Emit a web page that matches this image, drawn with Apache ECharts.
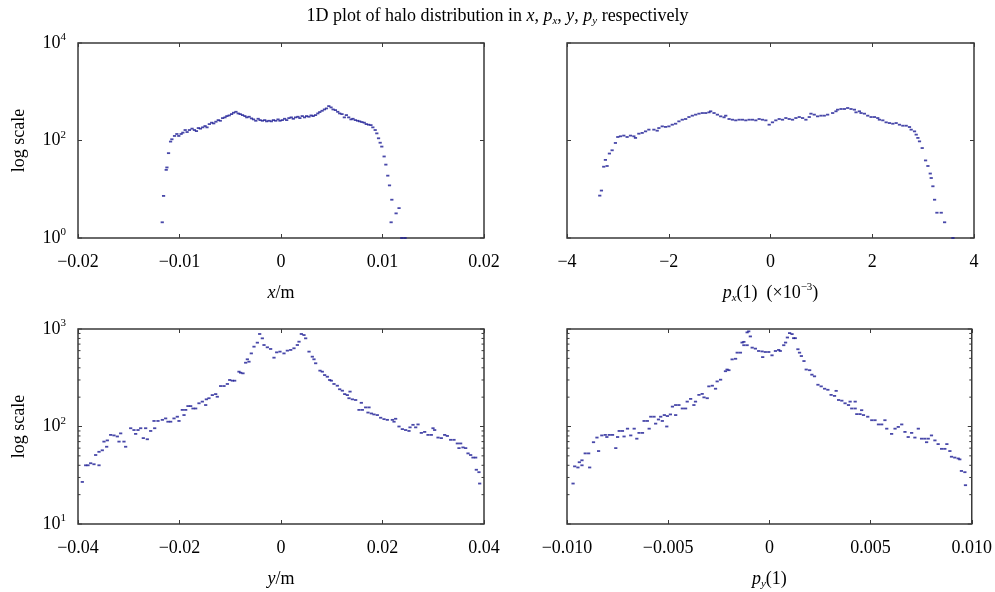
<!DOCTYPE html>
<html>
<head>
<meta charset="utf-8">
<script src="https://cdn.jsdelivr.net/npm/echarts@6/dist/echarts.min.js"></script>
<style>html,body{margin:0;padding:0;background:#fff}#c{width:995px;height:592px}</style>
</head>
<body>
<div id="c"></div>
<script>
// ---------- data: halo histograms (bin position, count) ----------
const xHaloPos = [-0.0117,-0.01157,-0.01131,-0.01124,-0.01108,-0.01088,-0.01075,-0.01049,-0.01026,-0.01007,-0.00984,-0.00967,-0.00944,-0.00925,-0.00902,-0.00876,-0.00853,-0.00833,-0.00814,-0.00794,-0.00771,-0.00748,-0.00729,-0.00706,-0.00683,-0.00663,-0.00641,-0.00618,-0.00598,-0.00575,-0.00552,-0.00533,-0.0051,-0.00487,-0.00467,-0.00444,-0.00422,-0.00402,-0.00379,-0.00356,-0.00337,-0.00314,-0.00291,-0.00271,-0.00248,-0.00225,-0.00206,-0.00183,-0.0016,-0.00141,-0.00118,-0.00095,-0.00075,-0.00052,-0.00029,-0.0001,0.00013,0.00036,0.00056,0.00078,0.00101,0.00121,0.00144,0.00167,0.00186,0.00209,0.00232,0.00252,0.00275,0.00297,0.00317,0.0034,0.00363,0.00382,0.00405,0.00428,0.00448,0.00471,0.00493,0.00513,0.00536,0.00559,0.00578,0.00601,0.00624,0.00644,0.00667,0.0069,0.00709,0.00732,0.00755,0.00775,0.00797,0.0082,0.0084,0.00863,0.00886,0.00905,0.00928,0.00944,0.00961,0.00977,0.00993,0.01016,0.01033,0.01052,0.01069,0.01085,0.01092,0.01134,0.01163,0.0119,0.01222];
const xHaloCount = [2.1,7.3,25,28,55,95,106,124,136,124,136,145,164,149,164,175,164,156,180,175,186,198,186,217,232,224,243,262,254,288,298,317,327,348,371,388,359,348,332,317,298,307,284,271,254,279,262,254,262,247,254,247,262,254,271,254,262,279,262,288,298,279,298,307,288,317,298,317,307,327,317,332,359,383,407,434,455,508,477,434,420,388,359,348,298,332,298,271,279,262,254,247,239,232,217,211,207,186,164,140,111,90,75,47,32,19,12,2.1,6.1,3.2,4.1,1,1];

const pxHaloPos = [-3.356,-3.323,-3.278,-3.245,-3.212,-3.166,-3.113,-3.048,-3.002,-2.949,-2.883,-2.818,-2.752,-2.686,-2.654,-2.588,-2.522,-2.456,-2.391,-2.292,-2.227,-2.194,-2.128,-2.062,-1.997,-1.931,-1.865,-1.8,-1.734,-1.668,-1.603,-1.537,-1.471,-1.406,-1.34,-1.274,-1.209,-1.176,-1.11,-1.044,-0.979,-0.913,-0.88,-0.814,-0.749,-0.683,-0.617,-0.552,-0.486,-0.42,-0.355,-0.289,-0.223,-0.158,-0.092,-0.026,0.039,0.105,0.171,0.236,0.302,0.368,0.433,0.499,0.565,0.631,0.696,0.762,0.795,0.86,0.926,0.992,1.057,1.123,1.222,1.287,1.32,1.386,1.452,1.517,1.583,1.649,1.681,1.747,1.78,1.846,1.911,1.977,2.043,2.108,2.141,2.207,2.273,2.338,2.404,2.47,2.535,2.601,2.667,2.732,2.765,2.831,2.864,2.897,2.929,2.982,3.048,3.094,3.14,3.159,3.192,3.225,3.271,3.356,3.422,3.586];
const pxHaloCount = [7.4,9.4,29,40,30,54,63,89,118,122,126,118,126,122,113,138,143,154,167,167,159,180,195,190,195,211,221,247,267,276,303,323,339,355,366,366,378,397,366,339,313,299,323,276,267,259,267,267,259,267,267,259,276,267,259,211,236,259,276,267,289,276,267,289,303,289,267,303,355,339,313,323,323,339,366,397,429,443,443,464,443,429,378,397,366,355,323,303,303,289,267,259,236,228,221,228,211,201,201,189,167,154,132,113,96,70,39,30,21,17,11.5,6.1,3.3,3.3,2.1,1];

const yHaloPos = [-0.03915,-0.03849,-0.03803,-0.0375,-0.03685,-0.03652,-0.03586,-0.03586,-0.03521,-0.03488,-0.03422,-0.03435,-0.03356,-0.03291,-0.03225,-0.03159,-0.03192,-0.03094,-0.03061,-0.02962,-0.02897,-0.02864,-0.02818,-0.02765,-0.02713,-0.02634,-0.02667,-0.02568,-0.02489,-0.02502,-0.02424,-0.02338,-0.02273,-0.02227,-0.02174,-0.02108,-0.02043,-0.0201,-0.01944,-0.01911,-0.01878,-0.01833,-0.0178,-0.01734,-0.01681,-0.01616,-0.0155,-0.01484,-0.01471,-0.01419,-0.01353,-0.01287,-0.01255,-0.01189,-0.01123,-0.01057,-0.01011,-0.00959,-0.00913,-0.00828,-0.00795,-0.00749,-0.00696,-0.00631,-0.00663,-0.00585,-0.00532,-0.00466,-0.0042,-0.00368,-0.00335,-0.00269,-0.00204,-0.00138,-0.00085,-0.0002,0.00059,0.00125,0.00191,0.00256,0.00322,0.00355,0.00401,0.00453,0.00486,0.00552,0.00617,0.0065,0.00683,0.00768,0.00814,0.0086,0.00913,0.00959,0.00992,0.01044,0.0111,0.01156,0.01209,0.01255,0.01307,0.0136,0.0134,0.01406,0.01471,0.01537,0.01603,0.01583,0.01668,0.01734,0.01714,0.0178,0.01833,0.01898,0.01964,0.0203,0.02095,0.02194,0.02259,0.02227,0.02325,0.02391,0.02456,0.02522,0.02542,0.02601,0.02654,0.027,0.02765,0.02831,0.02897,0.02962,0.02995,0.03028,0.03094,0.03159,0.03225,0.03278,0.03343,0.03409,0.03475,0.0354,0.03507,0.03586,0.03639,0.03685,0.03737,0.03783,0.03836,0.03849,0.03901,0.03915];
const yHaloCount = [27,40,40,42,41,51,40,55,57,70,72,62,82,81,79,85,70,70,62,96,92,84,92,96,76,74,96,90,96,114,114,117,121,112,112,121,126,114,148,131,148,162,162,153,153,173,180,166,190,195,210,215,202,260,260,273,300,295,295,365,356,351,451,462,489,562,659,724,889,802,685,649,624,508,576,586,562,600,610,634,685,741,889,867,802,586,520,489,445,374,365,337,324,300,295,273,262,241,233,215,210,228,195,190,187,148,148,175,157,157,139,136,133,131,123,119,117,117,120,112,100,94,92,90,98,104,98,105,86,88,82,82,96,92,77,76,82,80,73,73,67,67,60,61,60,53,51,48,48,36,34,26];

const pyHaloPos = [-0.0097,-0.00962,-0.00946,-0.00939,-0.00926,-0.00926,-0.0091,-0.00893,-0.00888,-0.00869,-0.00852,-0.00844,-0.00828,-0.00811,-0.00803,-0.00791,-0.00775,-0.00759,-0.0075,-0.00742,-0.00726,-0.00718,-0.00701,-0.00685,-0.00668,-0.00655,-0.00644,-0.00627,-0.00619,-0.00603,-0.00594,-0.00586,-0.0057,-0.00562,-0.00548,-0.00537,-0.00529,-0.00519,-0.00504,-0.00507,-0.00489,-0.00479,-0.00463,-0.00463,-0.00447,-0.0043,-0.00414,-0.00406,-0.00389,-0.00373,-0.00365,-0.00348,-0.00332,-0.00323,-0.00307,-0.00299,-0.00282,-0.00266,-0.00258,-0.00241,-0.00217,-0.00209,-0.002,-0.00184,-0.00167,-0.00159,-0.00143,-0.00135,-0.00126,-0.00126,-0.0011,-0.0011,-0.00102,-0.00094,-0.00085,-0.00069,-0.00053,-0.00036,-0.00033,-0.0002,-0.00003,0.00013,0.0003,0.00046,0.00054,0.00071,0.0008,0.00089,0.001,0.00112,0.0012,0.00128,0.00141,0.00149,0.00158,0.00171,0.00182,0.00199,0.0021,0.00223,0.0024,0.00256,0.00273,0.00289,0.00305,0.00322,0.0033,0.00342,0.00358,0.00374,0.00391,0.00399,0.00407,0.00424,0.00424,0.00432,0.00448,0.00456,0.00465,0.00486,0.00506,0.00522,0.00539,0.00555,0.00571,0.0058,0.00604,0.00621,0.00637,0.00654,0.0067,0.00686,0.00703,0.00719,0.00736,0.00752,0.00768,0.00777,0.00785,0.00801,0.00818,0.00834,0.00851,0.00867,0.00877,0.00892,0.009,0.00916,0.00933,0.00941,0.00949,0.00966,0.00969];
const pyHaloCount = [26,39,38,43,45,40,53,53,38,69,77,56,81,82,78,82,82,60,78,90,90,79,95,81,95,75,86,86,114,114,95,126,126,107,118,126,114,131,128,100,133,160,166,131,166,153,153,180,192,166,180,211,216,199,195,258,262,244,290,302,369,384,378,488,495,572,572,726,738,682,682,923,946,839,644,629,595,589,515,581,581,537,595,610,595,682,726,818,908,887,805,805,620,572,528,469,384,378,340,327,268,258,244,238,211,206,232,187,184,173,166,180,153,153,180,134,134,147,131,126,116,116,105,105,116,95,84,95,99,105,88,78,86,77,95,75,75,69,75,81,72,66,59,59,66,56,49,48,47,46,35,34,25];

// ---------- axis ticks and labels ----------
const xTickVals = [-0.02,-0.01,0,0.01,0.02];
const xTickLabels = ['\u22120.02','\u22120.01','0','0.01','0.02'];
const pxTickVals = [-4,-2,0,2,4];
const pxTickLabels = ['\u22124','\u22122','0','2','4'];
const yTickVals = [-0.04,-0.02,0,0.02,0.04];
const yTickLabels = ['\u22120.04','\u22120.02','0','0.02','0.04'];
const pyTickVals = [-0.01,-0.005,0,0.005,0.01];
const pyTickLabels = ['\u22120.010','\u22120.005','0','0.005','0.010'];
const topMajor = [1, 100, 10000];
const bottomMajor = [10, 100, 1000];
const bottomMinor = [20,30,40,50,60,70,80,90,200,300,400,500,600,700,800,900];

const FONT = '"Liberation Serif", "Times New Roman", serif';
const TXT = '#000';
const INK = '#3a3a3a';
const DOT = '#1a1a94';

const richStyles = {
  i: {fontStyle: 'italic', fontFamily: FONT, fontSize: 18, color: TXT, lineHeight: 22},
  n: {fontFamily: FONT, fontSize: 18, color: TXT, lineHeight: 22},
  sub: {fontStyle: 'italic', fontFamily: FONT, fontSize: 11, color: TXT, lineHeight: 12, verticalAlign: 'bottom'},
  sup: {fontFamily: FONT, fontSize: 11, color: TXT, lineHeight: 12, verticalAlign: 'top'}
};

const grids = [
  {left: 78, top: 43, width: 406, height: 195},
  {left: 567, top: 43, width: 407, height: 195},
  {left: 78, top: 329, width: 406, height: 195},
  {left: 567, top: 329, width: 407, height: 195}
].map(g => Object.assign({show: true, borderColor: INK, borderWidth: 1.5, containLabel: false}, g));

function labelFmt(vals, labels) {
  return function (v) {
    for (let i = 0; i < vals.length; i++) if (Math.abs(vals[i] - v) < 1e-9) return labels[i];
    return '';
  };
}

function xPair(gi, vals, labels, name) {
  const min = vals[0], max = vals[vals.length - 1], interval = vals[1] - vals[0];
  const base = {gridIndex: gi, type: 'value', min: min, max: max, interval: interval,
    splitLine: {show: false}, axisLine: {show: false}};
  return [
    Object.assign({}, base, {position: 'bottom',
      axisTick: {show: true, inside: true, length: 4, lineStyle: {color: INK}},
      axisLabel: {formatter: labelFmt(vals, labels), fontFamily: FONT, fontSize: 18, color: TXT, margin: 15},
      name: name, nameLocation: 'middle', nameGap: 44,
      nameTextStyle: {fontFamily: FONT, fontSize: 18, color: TXT, rich: richStyles}}),
    Object.assign({}, base, {position: 'top',
      axisTick: {show: true, inside: true, length: 4, lineStyle: {color: INK}},
      axisLabel: {show: false}})
  ];
}

function yAxisFor(gi, major, showLabels) {
  return {gridIndex: gi, type: 'log', logBase: 10, min: major[0], max: major[major.length - 1],
    splitLine: {show: false}, axisLine: {show: false}, axisTick: {show: false},
    axisLabel: {show: showLabels, margin: 12,
      formatter: function (v) {
        const e = Math.round(Math.log10(v));
        if (major.indexOf(Math.pow(10, e)) < 0) return '';
        return '{b|10}{sup|' + e + '}';
      },
      rich: {b: {fontFamily: FONT, fontSize: 18, color: TXT, lineHeight: 22},
             sup: {fontFamily: FONT, fontSize: 11, color: TXT, lineHeight: 12, verticalAlign: 'top'}}},
    name: showLabels ? 'log scale' : '', nameLocation: 'middle', nameRotate: 90, nameGap: 50,
    nameTextStyle: {fontFamily: FONT, fontSize: 18, color: TXT}
  };
}

function tickRenderer(params, api) {
  const cs = params.coordSys;
  const y = api.coord([api.value(0), api.value(1)])[1];
  const len = api.value(2);
  const style = {stroke: INK, lineWidth: 1};
  return {type: 'group', children: [
    {type: 'line', shape: {x1: cs.x, y1: y, x2: cs.x + len, y2: y}, style: style},
    {type: 'line', shape: {x1: cs.x + cs.width, y1: y, x2: cs.x + cs.width - len, y2: y}, style: style}
  ]};
}

function scatter(k, pos, cnt) {
  return {type: 'scatter', xAxisIndex: 2 * k, yAxisIndex: k, symbol: 'rect', symbolSize: [3.2, 1.8],
    itemStyle: {color: DOT}, data: pos.map((p, i) => [p, cnt[i]]), silent: true};
}
function ticks(k, major, minor) {
  const d = major.map(v => [0, v, 4]).concat(minor.map(v => [0, v, 2.5]));
  return {type: 'custom', xAxisIndex: 2 * k, yAxisIndex: k, renderItem: tickRenderer, data: d, silent: true, z: 5};
}

const option = {
  animation: false,
  backgroundColor: '#fff',
  title: {
    text: '1D plot of halo distribution in {i|x}, {i|p}{sub|x}, {i|y}, {i|p}{sub|y} respectively',
    left: 'center', top: 0,
    textStyle: {fontFamily: FONT, fontSize: 18, fontWeight: 'normal', color: TXT, rich: richStyles}
  },
  grid: grids,
  xAxis: [].concat(
    xPair(0, xTickVals, xTickLabels, '{i|x}{n|/m}'),
    xPair(1, pxTickVals, pxTickLabels, '{i|p}{sub|x}{n|(1)  (\u00d710}{sup|\u22123}{n|)}'),
    xPair(2, yTickVals, yTickLabels, '{i|y}{n|/m}'),
    xPair(3, pyTickVals, pyTickLabels, '{i|p}{sub|y}{n|(1)}')
  ),
  yAxis: [
    yAxisFor(0, topMajor, true),
    yAxisFor(1, topMajor, false),
    yAxisFor(2, bottomMajor, true),
    yAxisFor(3, bottomMajor, false)
  ],
  series: [
    scatter(0, xHaloPos, xHaloCount),
    scatter(1, pxHaloPos, pxHaloCount),
    scatter(2, yHaloPos, yHaloCount),
    scatter(3, pyHaloPos, pyHaloCount),
    ticks(0, topMajor, []),
    ticks(1, topMajor, []),
    ticks(2, bottomMajor, bottomMinor),
    ticks(3, bottomMajor, bottomMinor)
  ]
};

const chart = echarts.init(document.getElementById('c'), null, {renderer: 'canvas'});
chart.setOption(option);
</script>
</body>
</html>
